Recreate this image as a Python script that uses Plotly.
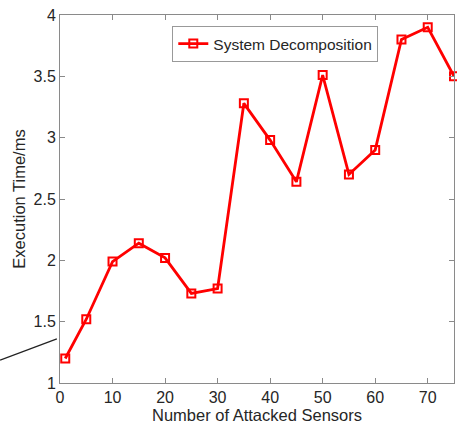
import plotly.graph_objects as go

# Execution time of the system decomposition vs. number of attacked sensors
attacked_sensors = [1, 5, 10, 15, 20, 25, 30, 35, 40, 45, 50, 55, 60, 65, 70, 75]
execution_ms = [1.20, 1.52, 1.99, 2.14, 2.02, 1.73, 1.77, 3.28, 2.98, 2.64,
                3.51, 2.70, 2.90, 3.80, 3.90, 3.50]
x_ticks = [0, 10, 20, 30, 40, 50, 60, 70]
y_ticks = [1, 1.5, 2, 2.5, 3, 3.5, 4]

FONT = "Liberation Sans, Arial, Helvetica, sans-serif"
AXIS_GREY = "#8a8a8a"
TEXT = "#262626"

fig = go.Figure()
fig.add_trace(go.Scatter(
    x=attacked_sensors, y=execution_ms,
    mode="lines+markers",
    name="System Decomposition",
    line=dict(color="#ff0000", width=2.8),
    marker=dict(symbol="square-open", size=8, color="#ff0000",
                line=dict(color="#ff0000", width=2)),
    cliponaxis=False,
))

axis_common = dict(
    showline=True, linecolor=AXIS_GREY, linewidth=1, mirror="ticks",
    ticks="inside", ticklen=5, tickcolor=AXIS_GREY, tickwidth=1,
    showgrid=False, zeroline=False,
    tickfont=dict(family=FONT, size=16, color=TEXT),
)

fig.update_xaxes(
    range=[0, 75], tickvals=x_ticks,
    title=dict(text="Number of Attacked Sensors", standoff=2,
               font=dict(family=FONT, size=16.5, color=TEXT)),
    **axis_common,
)
fig.update_yaxes(
    range=[1, 4], tickvals=y_ticks,
    title=dict(text="Execution Time/ms", standoff=3,
               font=dict(family=FONT, size=16.5, color=TEXT)),
    **axis_common,
)

# stray leader line to the left of the axes
fig.add_shape(type="line", xref="paper", yref="paper",
              x0=-0.152, y0=0.062, x1=-0.008, y1=0.12,
              line=dict(color="#222222", width=1.3))

fig.update_layout(
    width=457, height=430,
    margin=dict(l=60, r=3, t=15, b=47),
    paper_bgcolor="white", plot_bgcolor="white",
    showlegend=True,
    legend=dict(
        x=0.285, y=0.97, xanchor="left", yanchor="top",
        bgcolor="white", bordercolor="#999999", borderwidth=1,
        font=dict(family=FONT, size=15.5, color=TEXT),
        itemwidth=30, tracegroupgap=0,
    ),
)

fig.write_html("out.html")
